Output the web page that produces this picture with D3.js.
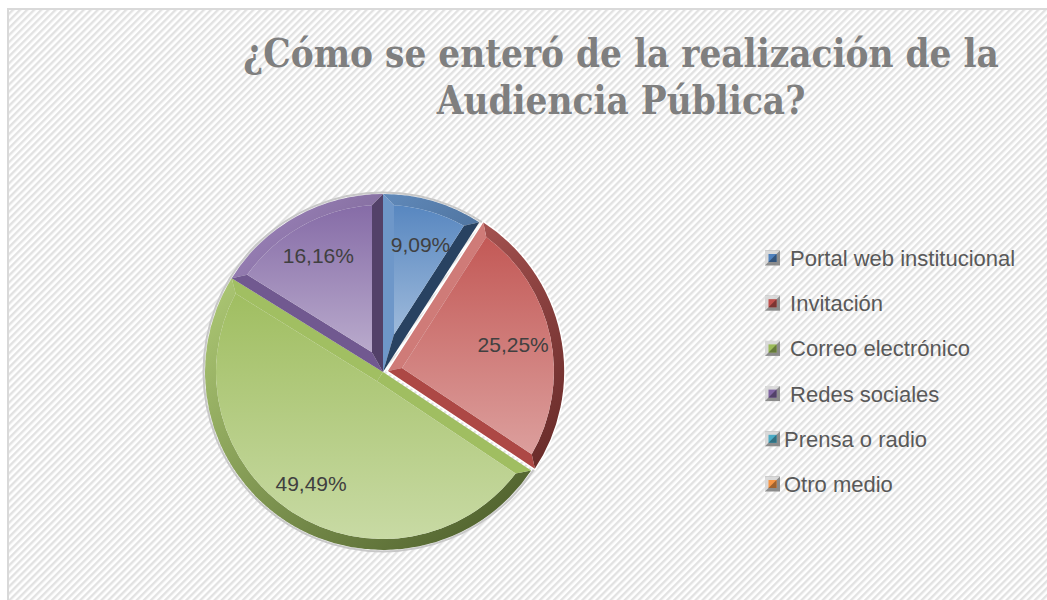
<!DOCTYPE html>
<html>
<head>
<meta charset="utf-8">
<script src="https://cdn.jsdelivr.net/npm/d3@7/dist/d3.min.js"></script>
<style>
  body { margin: 0; background: #fff; }
  text { white-space: pre; }
</style>
</head>
<body>
<svg id="chart" width="1047" height="600"></svg>
<script>
// data
var categories = [" Portal web institucional", " Invitación", " Correo electrónico", " Redes sociales", "Prensa o radio", "Otro medio"];
var values = [9.09, 25.25, 49.49, 16.16, 0, 0];
var labels = ["9,09%", "25,25%", "49,49%", "16,16%", "", ""];
var colors = ["#4f81bd", "#c0504d", "#9bbb59", "#8064a2", "#4bacc6", "#f79646"];
var titleLines = ["¿Cómo se enteró de la realización de la", "Audiencia Pública?"];

var W = 1047, H = 600;
var svg = d3.select("#chart");
var defs = svg.append("defs");

// striped background
var pat = defs.append("pattern")
    .attr("id", "stripes")
    .attr("width", 5).attr("height", 5)
    .attr("patternUnits", "userSpaceOnUse")
    .attr("patternTransform", "rotate(45)");
pat.append("rect").attr("width", 5).attr("height", 5).attr("fill", "#ffffff");
pat.append("rect").attr("width", 2.4).attr("height", 5).attr("fill", "#e2e2e2");

svg.append("rect")
    .attr("x", 8).attr("y", 9)
    .attr("width", W).attr("height", H)
    .attr("fill", "url(#stripes)")
    .attr("stroke", "#d9d9d9")
    .attr("stroke-width", 2);

// title - sized so the first line spans about the same width as in the original
var title = svg.append("g").selectAll("text")
    .data(titleLines)
    .enter().append("text")
    .attr("x", 621)
    .attr("y", function (d, i) { return 67 + i * 47; })
    .attr("text-anchor", "middle")
    .attr("font-family", "DejaVu Serif, serif")
    .attr("font-stretch", "condensed")
    .attr("font-weight", "bold")
    .attr("font-size", 38)
    .attr("fill", "#7f7f7f")
    .text(function (d) { return d; });
var w0 = title.node().getComputedTextLength();
title.attr("font-size", 38 * 756 / w0);

// pie
var cx = 383, cy = 372, R = 178, bevel = 11;
var pie = d3.pie().sort(null).value(function (d) { return d; });
var arcs = pie(values);

var shade = function (c, k) {
    // k > 0 lighter, k < 0 darker
    return k >= 0 ? d3.interpolateRgb(c, "#ffffff")(k) : d3.interpolateRgb(c, "#000000")(-k);
};
var pt = function (a, r) { return [Math.sin(a) * r, -Math.cos(a) * r]; };
// light comes from the top-left
var light = [-0.7071, -0.7071];

var pieG = svg.append("g").attr("transform", "translate(" + cx + "," + cy + ")");

// outer soft rim
pieG.append("circle").attr("r", R + 1.5)
    .attr("fill", "none").attr("stroke", "#c8c8c8").attr("stroke-width", 2);

arcs.forEach(function (d, i) {
    if (d.endAngle - d.startAngle <= 0) return;
    var c = colors[i];
    var a0 = d.startAngle, a1 = d.endAngle, h = (a1 - a0) / 2, mid = (a0 + a1) / 2;
    var explode = i === 1 ? 4 : 0;
    var off = pt(mid, explode);
    var g = pieG.append("g").attr("transform", "translate(" + off[0] + "," + off[1] + ")");

    // inner face geometry
    var t = Math.sqrt((R - bevel) * (R - bevel) - bevel * bevel);
    var delta = Math.atan(bevel / t);
    var apex = pt(mid, bevel / Math.sin(h));
    var p0 = pt(a0, R), p1 = pt(a1, R);
    var q0 = pt(a0 + delta, R - bevel), q1 = pt(a1 - delta, R - bevel);

    // outer band, gradient from light top-left to dark bottom-right
    var gid = "rim" + i;
    var rg = defs.append("linearGradient").attr("id", gid)
        .attr("gradientUnits", "userSpaceOnUse")
        .attr("x1", -R * 0.7).attr("y1", -R * 0.7).attr("x2", R * 0.7).attr("y2", R * 0.7);
    rg.append("stop").attr("offset", "0%").attr("stop-color", shade(c, 0.15));
    rg.append("stop").attr("offset", "100%").attr("stop-color", shade(c, -0.45));

    var rim = d3.path();
    rim.moveTo(p0[0], p0[1]);
    rim.arc(0, 0, R, a0 - Math.PI / 2, a1 - Math.PI / 2);
    rim.lineTo(q1[0], q1[1]);
    rim.arc(0, 0, R - bevel, a1 - delta - Math.PI / 2, a0 + delta - Math.PI / 2, true);
    rim.closePath();
    g.append("path").attr("d", rim.toString()).attr("fill", "url(#" + gid + ")");

    // straight edge bands, flat shade from their outward normal
    var n0 = [-Math.cos(a0), -Math.sin(a0)];   // outward normal of start edge
    var n1 = [Math.cos(a1), Math.sin(a1)];     // outward normal of end edge
    [[p0, q0, n0], [p1, q1, n1]].forEach(function (e) {
        var dot = e[2][0] * light[0] + e[2][1] * light[1];
        var col = dot > 0 ? shade(c, 0.25 * dot) : shade(c, 0.5 * dot);
        g.append("path")
            .attr("d", "M0,0L" + e[0] + "L" + e[1] + "L" + apex + "Z")
            .attr("fill", col);
    });

    // inner face
    var fid = "face" + i;
    var fg = defs.append("linearGradient").attr("id", fid)
        .attr("x1", 0).attr("y1", 0).attr("x2", 0).attr("y2", 1);
    fg.append("stop").attr("offset", "0%").attr("stop-color", shade(c, 0.05));
    fg.append("stop").attr("offset", "100%").attr("stop-color", shade(c, 0.45));

    var face = d3.path();
    face.moveTo(apex[0], apex[1]);
    face.lineTo(q0[0], q0[1]);
    face.arc(0, 0, R - bevel, a0 + delta - Math.PI / 2, a1 - delta - Math.PI / 2);
    face.closePath();
    g.append("path").attr("d", face.toString()).attr("fill", "url(#" + fid + ")");

    if (explode) {
        g.append("path")
            .attr("d", d3.arc().innerRadius(0).outerRadius(R)(d))
            .attr("fill", "none").attr("stroke", "#ffffff").attr("stroke-width", 1.5);
    }
});

// data labels
var labelArc = d3.arc().innerRadius(133).outerRadius(133);
pieG.selectAll("text.lbl")
    .data(arcs.filter(function (d) { return d.value > 0; }))
    .enter().append("text")
    .attr("class", "lbl")
    .attr("transform", function (d) { return "translate(" + labelArc.centroid(d) + ")"; })
    .attr("text-anchor", "middle")
    .attr("dy", "0.35em")
    .attr("font-family", "Liberation Sans, Arial, sans-serif")
    .attr("font-size", 21)
    .attr("fill", "#404040")
    .text(function (d) { return labels[d.index]; });

// legend
var ly = d3.scalePoint().domain(categories).range([258, 484]);
var leg = svg.append("g").selectAll("g")
    .data(categories)
    .enter().append("g")
    .attr("transform", function (d) { return "translate(765," + ly(d) + ")"; });

leg.append("rect").attr("x", 0).attr("y", -7.5).attr("width", 15).attr("height", 15).attr("fill", "#8c8c8c");
leg.append("path").attr("d", "M0,-7.5H15L11,-3.5H4V3.5L0,7.5Z").attr("fill", "#d9d9d9");
leg.append("rect").attr("x", 3.5).attr("y", -4).attr("width", 8).attr("height", 8)
    .attr("fill", function (d, i) { return colors[i]; });
leg.append("path").attr("d", "M3.5,4L11.5,-4V4Z")
    .attr("fill", function (d, i) { return shade(colors[i], -0.35); });

leg.append("text")
    .attr("x", 19)
    .attr("dy", "0.36em")
    .attr("font-family", "Liberation Sans, Arial, sans-serif")
    .attr("font-size", 22)
    .attr("fill", "#595959")
    .text(function (d) { return d; });
</script>
</body>
</html>
